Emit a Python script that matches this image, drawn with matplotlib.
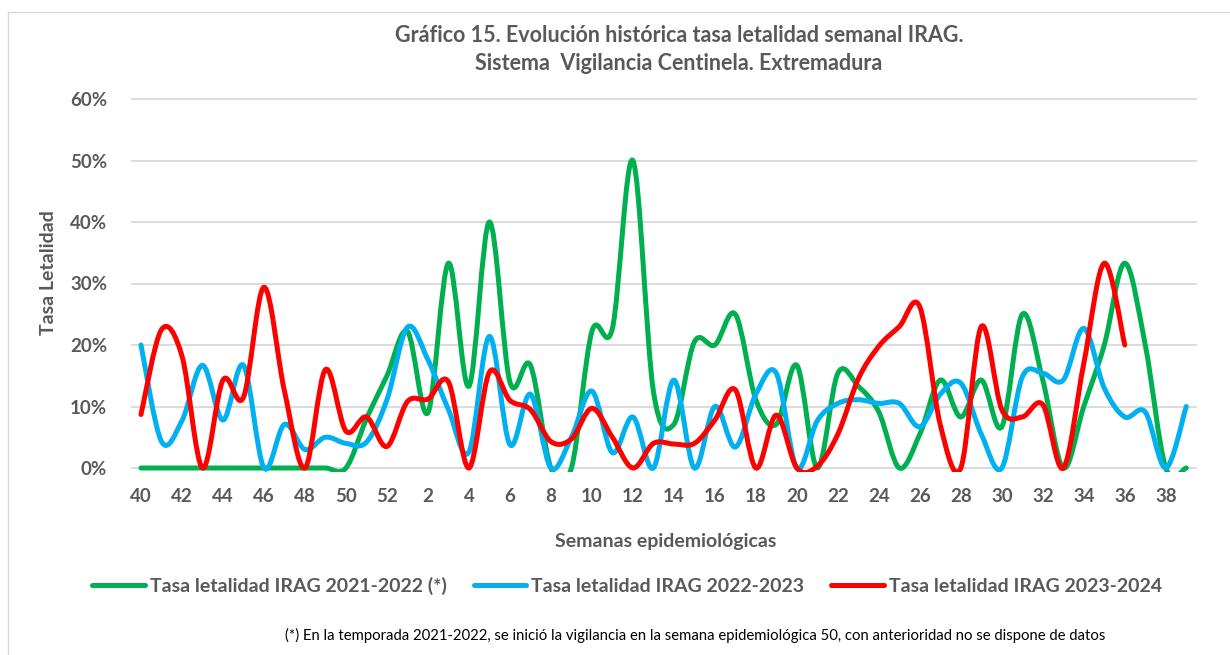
import matplotlib
matplotlib.use("Agg")
import matplotlib.pyplot as plt
from matplotlib.path import Path
from matplotlib.patches import PathPatch, Rectangle
from matplotlib.lines import Line2D

# Semanas epidemiologicas (40..52 y 1..39)
semanas = list(range(40, 53)) + list(range(1, 40))

# Tasa de letalidad semanal (%)
tasa_2122 = [0, 0, 0, 0, 0, 0, 0, 0, 0, 0, 0, 8, 15,
             22.2, 9, 33.3, 13.3, 40, 14, 16.7, 0, 0, 22.2, 22.7, 50,
             12.5, 7.1, 20.5, 20, 25, 11.1, 7.1, 16.7, 0, 15.4, 13.3, 9.1,
             0, 5.5, 14.3, 8.3, 14.3, 6.7, 25, 14.3, 0, 10, 20, 33.3,
             20, 0, 0]
tasa_2223 = [20, 4.3, 7.7, 16.7, 7.8, 16.7, 0, 7.1, 3, 5, 4, 4.2, 11.1,
             22.9, 17.6, 9.5, 2.6, 21.4, 3.8, 12, 0, 5, 12.5, 2.5, 8.3,
             0, 14.3, 0, 10, 3.4, 12, 15.4, 0, 7.7, 10.5, 11.1, 10.5,
             10.5, 6.7, 12, 13.8, 5.5, 0, 14.8, 15.4, 14.3, 22.7, 13, 8.3,
             9.1, 0, 10]
tasa_2324 = [8.7, 22.5, 18.2, 0, 14.3, 11.5, 29.4, 12.5, 0, 16, 6, 8.3, 3.5,
             10.8, 11.2, 14, 0, 15.6, 11, 9.5, 4.3, 4.7, 9.7, 5, 0,
             4, 3.9, 4, 7.8, 12.7, 0, 8.6, 0, 0.3, 5.5, 14.5, 19.8,
             23, 26.2, 7, 0, 23, 9.5, 8.3, 10.3, 0, 17, 33.3, 20]

series = [
    ("Tasa letalidad IRAG 2021-2022 (*)", tasa_2122, "#00B050"),
    ("Tasa letalidad IRAG 2022-2023", tasa_2223, "#00B0F0"),
    ("Tasa letalidad IRAG 2023-2024", tasa_2324, "#FF0000"),
]

gris = "#595959"
plt.rcParams["font.family"] = ["Lato", "DejaVu Sans"]


def curva_suave(xs, ys):
    # linea suavizada tipo Excel (Bezier por Catmull-Rom)
    n = len(xs)
    verts = [(xs[0], ys[0])]
    codes = [Path.MOVETO]
    for i in range(n - 1):
        x0, y0 = (xs[i - 1], ys[i - 1]) if i > 0 else (xs[i], ys[i])
        x1, y1 = xs[i], ys[i]
        x2, y2 = xs[i + 1], ys[i + 1]
        x3, y3 = (xs[i + 2], ys[i + 2]) if i + 2 < n else (x2, y2)
        verts.append((x1 + (x2 - x0) / 6, y1 + (y2 - y0) / 6))
        verts.append((x2 - (x3 - x1) / 6, y2 - (y3 - y1) / 6))
        verts.append((x2, y2))
        codes += [Path.CURVE4] * 3
    return Path(verts, codes)


W, H = 1230, 655
fig = plt.figure(figsize=(W / 100, H / 100), dpi=100)

# marco del grafico
fig.patches.append(Rectangle((8 / W, -0.1), 1.2, 1 - 12 / H + 0.1,
                             transform=fig.transFigure, fill=False,
                             edgecolor="#D9D9D9", lw=1.0))

px = 369 / 60.0
y_min, y_max = -0.6, 60.3
bottom = 1 - (468 + 0.6 * px) / H
top = 1 - (99 - 0.3 * px) / H
left = 130.75 / W
right = 1196.5 / W
ax = fig.add_axes([left, bottom, right - left, top - bottom])

for nombre, valores, color in series:
    xs = list(range(len(valores)))
    patch = PathPatch(curva_suave(xs, valores), facecolor="none",
                      edgecolor=color, lw=3.6, capstyle="round",
                      joinstyle="round")
    ax.add_patch(patch)

ax.set_xlim(-0.5, len(semanas) - 0.5)
ax.set_ylim(y_min, y_max)

ax.set_yticks(range(0, 61, 10))
ax.set_yticklabels([f"{v}%" for v in range(0, 61, 10)])
pos = list(range(0, len(semanas), 2))
ax.set_xticks(pos)
ax.set_xticklabels([str(semanas[p]) for p in pos])
ax.tick_params(axis="both", length=0, labelsize=13.5, labelcolor=gris)
ax.tick_params(axis="x", pad=12)
ax.tick_params(axis="y", pad=17)
for lab in ax.get_xticklabels() + ax.get_yticklabels():
    lab.set_fontweight("bold")

ax.grid(axis="y", color="#D9D9D9", lw=1.3)
ax.set_axisbelow(True)
for s in ax.spines.values():
    s.set_visible(False)

# titulos
fig.text(679 / W, 1 - 35 / H,
         "Gráfico 15. Evolución histórica tasa letalidad semanal IRAG.",
         ha="center", va="center", fontsize=15.5, fontweight="bold", color=gris)
fig.text(679 / W, 1 - 64 / H, "Sistema  Vigilancia Centinela. Extremadura",
         ha="center", va="center", fontsize=15.5, fontweight="bold", color=gris)
fig.text(48 / W, 1 - 273 / H, "Tasa Letalidad", rotation=90,
         ha="center", va="center", fontsize=14, fontweight="bold", color=gris)
fig.text(666 / W, 1 - 541 / H, "Semanas epidemiológicas",
         ha="center", va="center", fontsize=14, fontweight="bold", color=gris)

handles = [Line2D([], [], color=c, lw=3.6, solid_capstyle="round")
           for _, _, c in series]
leg = fig.legend(handles, [n for n, _, _ in series], loc="center",
                 bbox_to_anchor=(627 / W, 1 - 586 / H), ncol=3, frameon=False,
                 handlelength=2.7, handletextpad=0.25, columnspacing=1.4,
                 prop={"size": 14, "weight": "bold"})
for t in leg.get_texts():
    t.set_color(gris)

fig.text(285 / W, 1 - 635 / H,
         "(*) En la temporada 2021-2022, se inició la vigilancia en la semana "
         "epidemiológica 50, con anterioridad no se dispone de datos",
         ha="left", va="center", fontsize=10.7, color="black")

fig.savefig("out.png", dpi=100)
